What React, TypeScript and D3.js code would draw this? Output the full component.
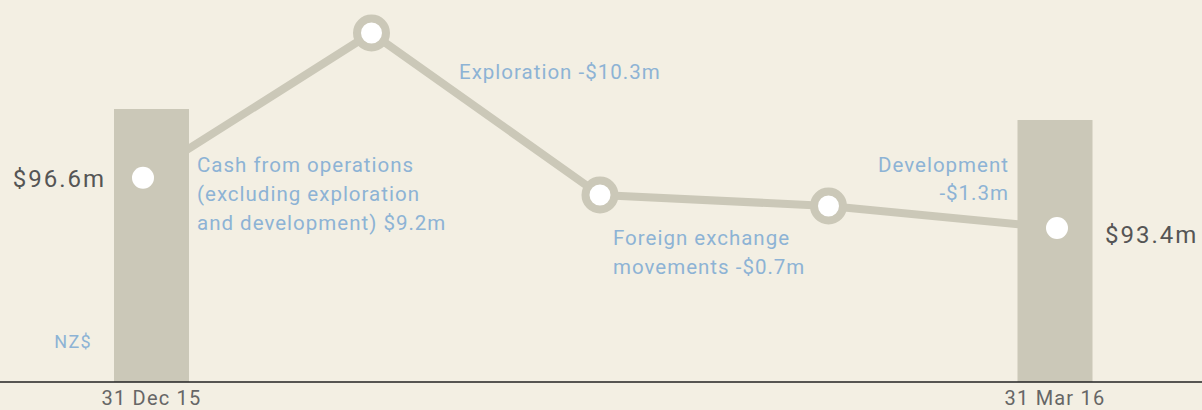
import React from "react";
import * as d3 from "d3";

const W = 1202;
const H = 410;

const steps = ["Start", "Operations", "Exploration", "FX", "Development"];
const cumulative = [96.6, 105.8, 95.5, 94.8, 93.4];
const bars = [
  { label: "31 Dec 15", value: 96.6, valueText: "$96.6m" },
  { label: "31 Mar 16", value: 93.4, valueText: "$93.4m" },
];
const annotations = [
  ["Cash from operations", "(excluding exploration", "and development) $9.2m"],
  ["Exploration -$10.3m"],
  ["Foreign exchange", "movements -$0.7m"],
  ["Development", "-$1.3m"],
];
const unitLabel = "NZ$";

const BG = "#f3efe3";
const BEIGE = "#cbc8b8";
const BLUE = "#8db3d5";
const DARK = "#555555";
const FONT = "Roboto, 'DejaVu Sans', sans-serif";

export default function App() {
  const x = d3.scalePoint<string>().domain(steps).range([143, 1057]);
  const yLine = d3.scaleLinear().domain([93.4, 105.8]).range([228, 33]);
  const baseline = 382;
  const yBar = d3.scaleLinear().domain([17.2, 96.6]).range([baseline, 109]);
  const barW = 75;
  const barCenters = [x(steps[0])! + 8.5, x(steps[4])! - 2];

  const line = d3
    .line<number>()
    .x((_, i) => x(steps[i])!)
    .y((d) => yLine(d));

  const pts = cumulative.map((v, i) => ({ x: x(steps[i])!, y: yLine(v) }));

  return (
    <svg
      width={W}
      height={H}
      style={{ position: "absolute", left: 0, top: 0, display: "block" }}
    >
      <rect x={0} y={0} width={W} height={H} fill={BG} />
      <path d={line(cumulative) || ""} fill="none" stroke={BEIGE} strokeWidth={8} strokeLinejoin="round" />
      {bars.map((b, i) => (
        <rect
          key={b.label}
          x={barCenters[i] - barW / 2}
          y={yBar(b.value)}
          width={barW}
          height={baseline - yBar(b.value)}
          fill={BEIGE}
        />
      ))}
      {pts.map((p, i) =>
        i === 0 || i === pts.length - 1 ? (
          <circle key={i} cx={p.x} cy={p.y} r={11} fill="#ffffff" />
        ) : (
          <circle key={i} cx={p.x} cy={p.y} r={14.5} fill="#ffffff" stroke={BEIGE} strokeWidth={8} />
        )
      )}
      <line x1={0} x2={W} y1={baseline} y2={baseline} stroke="#222" strokeWidth={1.5} />
      {bars.map((b, i) => (
        <text
          key={"t" + i}
          x={barCenters[i]}
          y={405}
          textAnchor="middle"
          fontFamily={FONT}
          fontSize={20}
          letterSpacing={1.2}
          fill="#666"
        >
          {b.label}
        </text>
      ))}
      <text x={106} y={pts[0].y + 9} textAnchor="end" fontFamily={FONT} fontSize={24} letterSpacing={2} fill={DARK}>
        {bars[0].valueText}
      </text>
      <text x={1105} y={pts[4].y + 15} textAnchor="start" fontFamily={FONT} fontSize={24} letterSpacing={2} fill={DARK}>
        {bars[1].valueText}
      </text>
      <text x={92} y={348} textAnchor="end" fontFamily={FONT} fontSize={18} letterSpacing={1.3} fill={BLUE}>
        {unitLabel}
      </text>
      <g fontFamily={FONT} fontSize={20.5} letterSpacing={1} fill={BLUE}>
        {annotations[0].map((t, i) => (
          <text key={i} x={197} y={172 + i * 29}>{t}</text>
        ))}
        {annotations[1].map((t, i) => (
          <text key={i} x={459} y={79 + i * 29}>{t}</text>
        ))}
        {annotations[2].map((t, i) => (
          <text key={i} x={613} y={245 + i * 29}>{t}</text>
        ))}
        {annotations[3].map((t, i) => (
          <text key={i} x={1009} y={172 + i * 28} textAnchor="end">{t}</text>
        ))}
      </g>
    </svg>
  );
}
